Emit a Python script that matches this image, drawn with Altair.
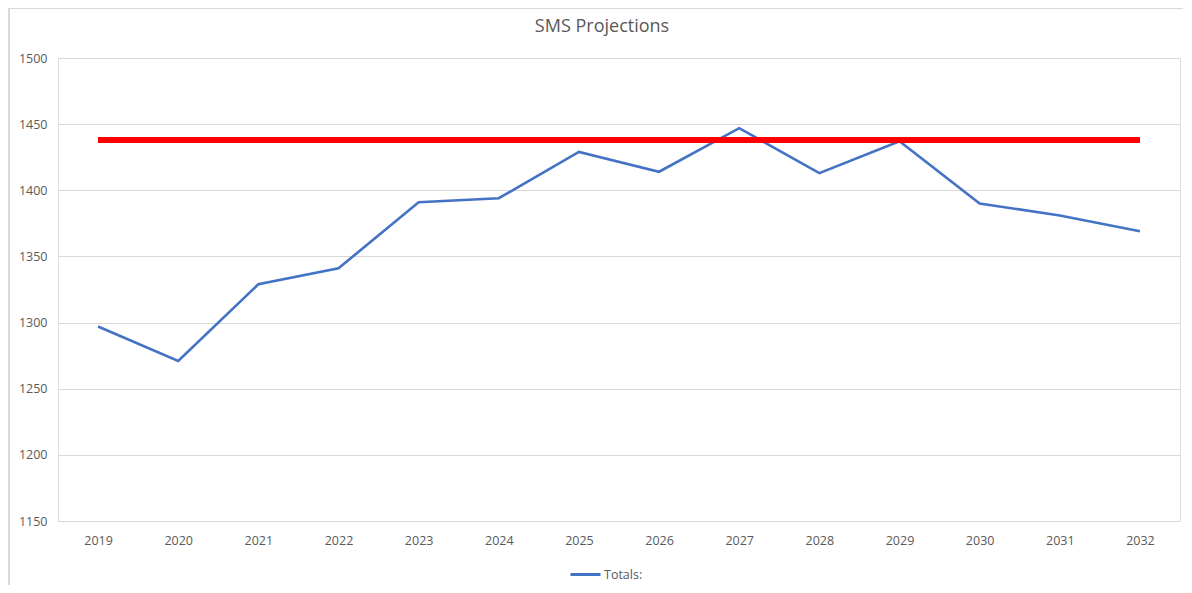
import altair as alt
import pandas as pd

years = ["2019", "2020", "2021", "2022", "2023", "2024", "2025",
         "2026", "2027", "2028", "2029", "2030", "2031", "2032"]
totals = [1297, 1271, 1329, 1341, 1391, 1394, 1429,
          1414, 1447, 1413, 1437, 1390, 1381, 1369]
target = 1438
y_ticks = [1150, 1200, 1250, 1300, 1350, 1400, 1450, 1500]
series_name = "Totals:"
title_text = "SMS Projections"

df = pd.DataFrame({"year": years, "total": totals, "series": [series_name] * len(years)})

FONT = "Open Sans"
GREY = "#595959"
W, H = 1122, 463

x_enc = alt.X("year:O", sort=years,
              scale=alt.Scale(type="point", padding=0.5),
              axis=alt.Axis(title=None, labelAngle=0, ticks=False, domain=False,
                            grid=False, labelPadding=13, labelFontSize=12.5,
                            labelColor=GREY, labelFont=FONT))
y_enc = alt.Y("total:Q",
              scale=alt.Scale(domain=[1150, 1500], nice=False, zero=False),
              axis=alt.Axis(title=None, values=y_ticks, format="d", ticks=False, domain=False,
                            grid=True, gridColor="#d9d9d9", gridWidth=1,
                            labelPadding=11, labelFontSize=12.5,
                            labelColor=GREY, labelFont=FONT))

line = alt.Chart(df).mark_line(strokeWidth=2.6).encode(
    x=x_enc,
    y=y_enc,
    color=alt.Color("series:N",
                    scale=alt.Scale(domain=[series_name], range=["#4472C4"]),
                    legend=alt.Legend(title=None, orient="none", legendX=511, legendY=500,
                                      symbolType="stroke", symbolSize=900,
                                      symbolStrokeWidth=3, labelFont=FONT,
                                      labelFontSize=12.5, labelColor=GREY,
                                      labelOffset=2, padding=0)),
)

rule = alt.Chart(df).mark_rule(color="#FF0000", strokeWidth=4.5).encode(
    x=alt.datum(years[0]),
    x2=alt.datum(years[-1]),
    y=alt.datum(target),
)

title = alt.Chart(pd.DataFrame({"t": [title_text]})).mark_text(
    font=FONT, fontSize=18, color=GREY, align="center", baseline="middle"
).encode(text="t:N", x=alt.value(W / 2 - 17), y=alt.value(-31))

left_border = alt.Chart(df).mark_rule(color="#d9d9d9", strokeWidth=1).encode(
    x=alt.value(-49), y=alt.value(-50), y2=alt.value(530))
top_border = alt.Chart(df).mark_rule(color="#d9d9d9", strokeWidth=1).encode(
    x=alt.value(-49), x2=alt.value(W + 3), y=alt.value(-49.5))

chart = alt.layer(left_border, top_border, line, rule, title).properties(
    width=W, height=H,
    autosize=alt.AutoSizeParams(type="none"),
    padding={"left": 50, "top": 50, "right": 4, "bottom": 64},
).configure_view(stroke=None).configure(background="white")

chart.save("out.html", embed_options={"renderer": "svg", "actions": False})
